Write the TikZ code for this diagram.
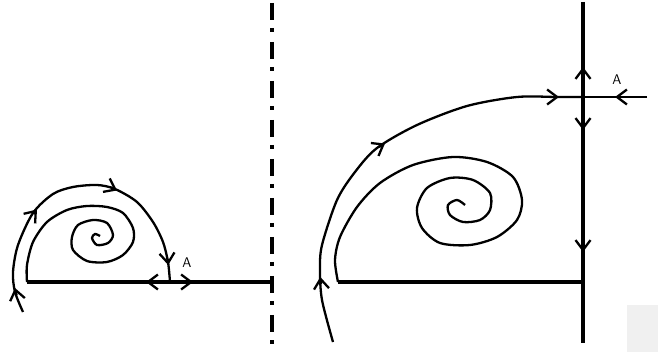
\documentclass[tikz,border=0pt]{standalone}
\usetikzlibrary{arrows.meta}
\tikzset{
    flow/.style={line width=2.3pt},
    axis/.style={line width=4.3pt},
    symaxis/.style={line width=3.5pt, dash pattern=on 17pt off 8pt on 4pt off 10pt},
    barb/.tip={Straight Barb[length=10pt,width=15pt,line width=2.3pt]},
    tipline/.style={flow, -{barb}},
    lbl/.style={font=\fontsize{14}{16}\sffamily, inner sep=0pt}
}
\begin{document}
\begin{tikzpicture}[x=1pt,y=-1pt]
    \useasboundingbox (0,0) rectangle (658,352);

    % 定义坐标
    \coordinate (L0) at (27,282);
    \coordinate (L1) at (272,282);
    \coordinate (A1) at (170,282);
    \coordinate (S0) at (272,3);
    \coordinate (S1) at (272,352);
    \coordinate (R0) at (338,282);
    \coordinate (R1) at (583,282);
    \coordinate (V0) at (583,2);
    \coordinate (V1) at (583,343);
    \coordinate (A2) at (583,97);
    \coordinate (H1) at (647,97);

    % 左图: 对称轴与边界
    \draw[symaxis] (S0) -- (S1);
    \draw[axis] (L0) -- (L1);
    \draw[tipline] (152,282) -- (146,282);
    \draw[tipline] (187,282) -- (193,282);

    % 左图: 外轨线
    \draw[flow] plot[smooth] coordinates {(23,312) (15,292) (13,272) (18,245)
        (33,213) (53,194) (73,187) (97,185) (115,189) (137,202) (153,222)
        (163,242) (168,262) (A1)};
    \draw[tipline] (16.5,295) -- (15,288);
    \draw[tipline] (33.4,213.8) -- (37,209.5);
    \draw[tipline] (111,187.5) -- (117,190.5);
    \draw[tipline] (167.6,259) -- (168.2,265);

    % 左图: 螺旋线
    \draw[flow] plot[smooth] coordinates {(L0) (27,265) (33,242) (47,222)
        (67,210) (87,206) (107,207) (123,213) (133,228) (133,242) (123,255)
        (107,262) (87,261) (73,250) (72,237) (78,225) (93,220) (107,223)
        (113,235) (108,243) (97,245) (92,238) (95,234) (100,236)};
    \node[lbl] (labA1) at (187,263) {A};

    % 右图: 边界
    \draw[axis] (V0) -- (V1);
    \draw[axis] (R0) -- (R1);
    \draw[tipline] (583,75) -- (583,67);
    \draw[tipline] (583,122) -- (583,130);
    \draw[tipline] (583,244) -- (583,252);

    % 右图: 外轨线
    \draw[flow] plot[smooth] coordinates {(333,342) (322,300) (320,270)
        (322,245) (337,200) (355,172) (377,148) (417,125) (467,106) (517,97)
        (557,97) (A2)};
    \draw[flow] (H1) -- (A2);
    \draw[tipline] (321,284) -- (320.3,277);
    \draw[tipline] (379,147) -- (385,143.5);
    \draw[tipline] (552,97) -- (559,97);
    \draw[tipline] (622,97) -- (615,97);

    % 右图: 螺旋线
    \draw[flow] plot[smooth] coordinates {(R0) (335,260) (340,237) (357,207)
        (380,183) (413,165) (453,157) (487,162) (513,177) (522,200) (517,220)
        (497,237) (470,245) (440,243) (422,228) (417,208) (427,188) (450,178)
        (473,180) (490,193) (490,210) (480,220) (463,222) (450,215) (448,205)
        (457,200) (465,205)};
    \node[lbl] (labA2) at (617,80) {A};

    % 右下角灰块
    \fill[gray!12] (627,305) rectangle (658,352);
\end{tikzpicture}
\end{document}
